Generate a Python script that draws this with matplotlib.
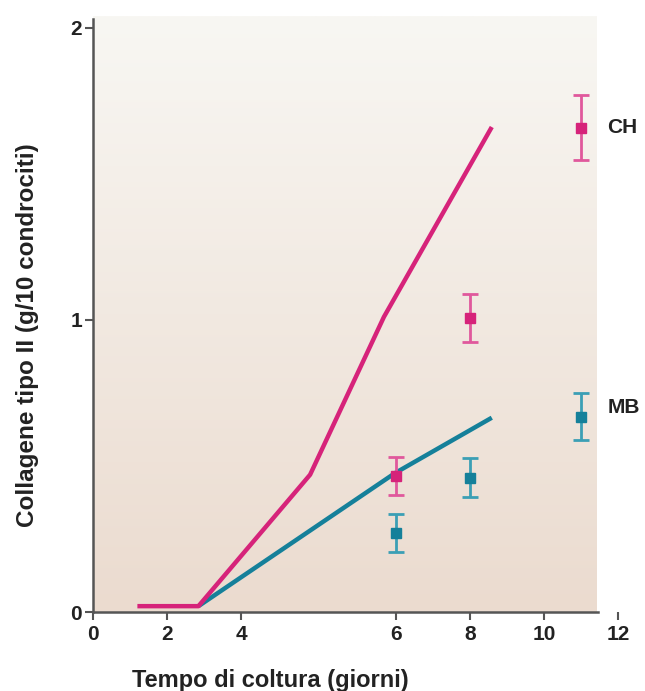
import matplotlib.pyplot as plt
import numpy as np

# x axis in the original drawing is stretched between 4 and 6 days
x_knots = [-100, 0, 4, 6, 100]
pos_knots = [-100, 0, 4, 8.2, 102.2]

# curves (days, collagen)
ch_line_x = [1.2, 2.85, 4.89, 5.84, 8.58]
ch_line_y = [0.02, 0.02, 0.47, 1.01, 1.66]
mb_line_x = [2.85, 5.98, 8.58]
mb_line_y = [0.02, 0.475, 0.665]

# measured points
pts_x = [6, 8, 11]
ch_y = [0.465, 1.007, 1.658]
ch_err = [0.065, 0.083, 0.11]
mb_y = [0.27, 0.46, 0.668]
mb_err = [0.065, 0.068, 0.08]

xticks = [0, 2, 4, 6, 8, 10, 12]
yticks = [0, 1, 2]

magenta = '#d6237a'
magenta_light = '#e0589c'
teal = '#15809a'
teal_light = '#3b9fb5'

plt.rcParams['font.family'] = ['Liberation Sans', 'DejaVu Sans']
plt.rcParams['font.weight'] = 'bold'

fig = plt.figure(figsize=(6.45, 6.91), dpi=100)
ax = fig.add_axes([93 / 645, 79 / 691, 529 / 645, 596 / 691])


def fwd(x):
    return np.interp(x, x_knots, pos_knots)


def inv(p):
    return np.interp(p, pos_knots, x_knots)


ax.set_xscale('function', functions=(fwd, inv))
ax.set_xlim(0, 12.1)
ax.set_ylim(0, 2.04)

# background gradient panel
grad = np.linspace(0, 1, 256).reshape(-1, 1)
top = np.array([248, 247, 243]) / 255
bot = np.array([235, 219, 207]) / 255
img = top + (bot - top) * grad[..., None]
ax.imshow(img, extent=[0, 13.6 / 14.3, 0, 1], transform=ax.transAxes,
          aspect='auto', zorder=0, interpolation='bilinear')

ax.plot(ch_line_x, ch_line_y, color=magenta, lw=3.2, solid_capstyle='butt', zorder=3)
ax.plot(mb_line_x, mb_line_y, color=teal, lw=3.2, solid_capstyle='butt', zorder=2)

ax.errorbar(pts_x, ch_y, yerr=ch_err, fmt='s', ms=7, color=magenta,
            ecolor=magenta_light, elinewidth=2, capsize=6, capthick=2, zorder=4)
ax.errorbar(pts_x, mb_y, yerr=mb_err, fmt='s', ms=7, color=teal,
            ecolor=teal_light, elinewidth=2, capsize=6, capthick=2, zorder=4)

ax.text(11.7, ch_y[-1], 'CH', fontsize=15, fontweight='bold', va='center',
        color='#222222', clip_on=False)
ax.text(11.7, 0.70, 'MB', fontsize=15, fontweight='bold', va='center',
        color='#222222', clip_on=False)

for s in ['top', 'right']:
    ax.spines[s].set_visible(False)
ax.spines['left'].set_bounds(0, 2.03)
ax.spines['bottom'].set_bounds(0, 11.45)
for s in ['left', 'bottom']:
    ax.spines[s].set_linewidth(1.8)
    ax.spines[s].set_color('#555555')

ax.set_xticks(xticks)
ax.set_yticks(yticks)
ax.tick_params(axis='both', length=6, width=1.5, color='#555555',
               labelsize=15, labelcolor='#222222')
ax.tick_params(axis='y', pad=2)
ax.tick_params(axis='x', pad=3)
for lab in ax.get_xticklabels() + ax.get_yticklabels():
    lab.set_fontweight('bold')

ax.set_xlabel('Tempo di coltura (giorni)', fontsize=17, fontweight='bold',
              color='#222222')
ax.set_ylabel('Collagene tipo II (g/10 condrociti)', fontsize=17.5,
              fontweight='bold', color='#222222')
ax.xaxis.set_label_coords((270 - 93) / 529, -57 / 596)
ax.yaxis.set_label_coords(-54 / 529, (612 - 335) / 596)

fig.savefig('out.png', dpi=100, facecolor='white')
